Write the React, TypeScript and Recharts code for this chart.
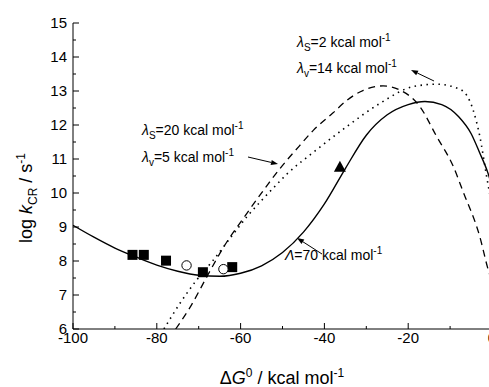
import React from 'react';
import { ComposedChart, Line, Scatter, XAxis, YAxis, Customized } from 'recharts';

const FONT = 'Arial, "Liberation Sans", Helvetica, sans-serif';

// lambda = 70 kcal/mol fit (solid)
const solidX = [-100, -95, -90, -85, -80, -75, -70, -65, -60, -55, -50, -45, -40, -35, -30, -25, -20, -16, -12, -8, -5, -3, -1, 0];
const solidY = [9.05, 8.7, 8.38, 8.12, 7.88, 7.7, 7.58, 7.55, 7.64, 7.86, 8.25, 8.85, 9.68, 10.72, 11.7, 12.3, 12.6, 12.69, 12.6, 12.25, 11.75, 11.2, 10.6, 10.2];

// ls = 20, lv = 5 (dashed)
const dashX = [-75.5, -72, -68, -64, -58.5, -53.4, -50.6, -46, -42.6, -38, -34.7, -30.7, -26, -22, -17.2, -13.2, -9.2, -6.9, -2.9, -0.9, 0];
const dashY = [6.0, 6.65, 7.55, 8.42, 9.4, 10.27, 10.72, 11.38, 11.85, 12.35, 12.72, 13.02, 13.15, 13.03, 12.54, 11.66, 10.77, 10.04, 8.71, 7.74, 7.4];

// ls = 2, lv = 14 (dotted)
const dotX = [-78.3, -74.5, -70.5, -66.5, -62, -58.5, -55, -51, -49, -42.6, -34.7, -26.7, -18.8, -13.2, -7.6, -4.5, -2.9, -1.3, 0];
const dotY = [6.0, 6.75, 7.44, 8.03, 8.75, 9.3, 9.78, 10.3, 10.55, 11.2, 11.95, 12.64, 13.13, 13.2, 13.05, 12.44, 11.66, 10.5, 9.6];

const squareX = [-85.8, -83.1, -77.8, -69.0, -62.0];
const squareY = [8.18, 8.18, 8.01, 7.67, 7.82];
const circleX = [-72.9, -64.1];
const circleY = [7.87, 7.76];
const triangleX = [-36.3];
const triangleY = [10.77];

const xTicks = [-100, -90, -80, -70, -60, -50, -40, -30, -20, -10, 0];
const yTicks = [6, 6.5, 7, 7.5, 8, 8.5, 9, 9.5, 10, 10.5, 11, 11.5, 12, 12.5, 13, 13.5, 14, 14.5, 15];

const zip = (xs: number[], ys: number[]) => xs.map((x, i) => ({ x, y: ys[i] }));
const solidData = zip(solidX, solidY);
const dashData = zip(dashX, dashY);
const dotData = zip(dotX, dotY);
const squareData = zip(squareX, squareY);
const circleData = zip(circleX, circleY);
const triangleData = zip(triangleX, triangleY);

const XTick = (props: any) => {
  const { x, y, payload } = props;
  const v = payload.value;
  const major = v % 20 === 0;
  return (
    <g>
      <line x1={x} x2={x} y1={y} y2={y - (major ? 6 : 3)} stroke="#000" strokeWidth={1} />
      {major && (
        <text x={x} y={y + 14} textAnchor="middle" fontSize={15} fontFamily={FONT} fill="#000">
          {v}
        </text>
      )}
    </g>
  );
};

const YTick = (props: any) => {
  const { x, y, payload } = props;
  const v = payload.value;
  const major = v % 1 === 0;
  return (
    <g>
      <line x1={x} x2={x + (major ? 6 : 3)} y1={y} y2={y} stroke="#000" strokeWidth={1} />
      {major && (
        <text x={x - 6} y={y + 5} textAnchor="end" fontSize={15} fontFamily={FONT} fill="#000">
          {v}
        </text>
      )}
    </g>
  );
};

const Arrow = ({ x1, y1, x2, y2 }: { x1: number; y1: number; x2: number; y2: number }) => {
  // head at (x2, y2)
  const a = Math.atan2(y2 - y1, x2 - x1);
  const L = 7;
  const W = 2.6;
  const bx = x2 - L * Math.cos(a);
  const by = y2 - L * Math.sin(a);
  const p1 = `${bx + W * Math.sin(a)},${by - W * Math.cos(a)}`;
  const p2 = `${bx - W * Math.sin(a)},${by + W * Math.cos(a)}`;
  return (
    <g>
      <line x1={x1} y1={y1} x2={bx} y2={by} stroke="#000" strokeWidth={1} />
      <polygon points={`${x2},${y2} ${p1} ${p2}`} fill="#000" />
    </g>
  );
};

const Lam = ({ x, y, sub, rest }: { x: number; y: number; sub: string; rest: string }) => (
  <text x={x} y={y} fontSize={14} fontFamily={FONT} fill="#000">
    <tspan fontStyle="italic">λ</tspan>
    <tspan dy={4} fontSize={10}>{sub}</tspan>
    <tspan dy={-4}>{rest}</tspan>
    <tspan dy={-6} fontSize={10}>-1</tspan>
  </text>
);

const Annotations = () => (
  <g>
    <Lam x={297} y={47} sub="S" rest="=2 kcal mol" />
    <Lam x={297} y={73} sub="v" rest="=14 kcal mol" />
    <Arrow x1={434} y1={81} x2={411} y2={70} />

    <Lam x={142} y={135} sub="S" rest="=20 kcal mol" />
    <Lam x={142} y={162} sub="v" rest="=5 kcal mol" />
    <Arrow x1={248} y1={157} x2={278} y2={164} />

    <text x={285} y={260} fontSize={14} fontFamily={FONT} fill="#000">
      <tspan fontStyle="italic">Λ</tspan>
      <tspan>=70 kcal mol</tspan>
      <tspan dy={-6} fontSize={10}>-1</tspan>
    </text>
    <Arrow x1={322} y1={254} x2={297} y2={238} />

    <text x={282} y={384} textAnchor="middle" fontSize={18} fontFamily={FONT} fill="#000">
      <tspan>Δ</tspan>
      <tspan fontStyle="italic">G</tspan>
      <tspan dy={-7} fontSize={12}>0</tspan>
      <tspan dy={7}> / kcal mol</tspan>
      <tspan dy={-7} fontSize={12}>-1</tspan>
    </text>

    <text
      x={32}
      y={198}
      transform="rotate(-90 32 198)"
      textAnchor="middle"
      fontSize={18}
      fontFamily={FONT}
      fill="#000"
    >
      <tspan>log </tspan>
      <tspan fontStyle="italic">k</tspan>
      <tspan dy={5} fontSize={12}>CR</tspan>
      <tspan dy={-5}> / s</tspan>
      <tspan dy={-7} fontSize={12}>-1</tspan>
    </text>
  </g>
);

const squareShape = (p: any) => <rect x={p.cx - 5} y={p.cy - 5} width={10} height={10} fill="#000" />;
const circleShape = (p: any) => <circle cx={p.cx} cy={p.cy} r={4.7} fill="#fff" stroke="#000" strokeWidth={1} />;
const triangleShape = (p: any) => (
  <polygon points={`${p.cx},${p.cy - 6} ${p.cx - 6},${p.cy + 5} ${p.cx + 6},${p.cy + 5}`} fill="#000" />
);

export default function App() {
  return (
    <div style={{ position: 'absolute', left: 0, top: 0, width: 489, height: 387, overflow: 'hidden', background: '#fff' }}>
      <ComposedChart width={500} height={387} margin={{ top: 23, right: 8, left: 0, bottom: 0 }}>
        <XAxis
          dataKey="x"
          type="number"
          domain={[-100, 0]}
          ticks={xTicks}
          interval={0}
          allowDataOverflow
          height={58}
          tickSize={0}
          tickMargin={0}
          tickLine={false}
          tick={<XTick />}
          axisLine={{ stroke: '#000', strokeWidth: 1 }}
        />
        <YAxis
          dataKey="y"
          type="number"
          domain={[6, 15]}
          ticks={yTicks}
          interval={0}
          allowDataOverflow
          width={73}
          tickSize={0}
          tickMargin={0}
          tickLine={false}
          tick={<YTick />}
          axisLine={{ stroke: '#000', strokeWidth: 1 }}
        />
        <Line data={solidData} dataKey="y" type="monotone" stroke="#000" strokeWidth={1.4} dot={false} isAnimationActive={false} />
        <Line data={dashData} dataKey="y" type="monotone" stroke="#000" strokeWidth={1.3} strokeDasharray="7 5" dot={false} isAnimationActive={false} />
        <Line data={dotData} dataKey="y" type="monotone" stroke="#000" strokeWidth={1.6} strokeDasharray="1.5 4.5" dot={false} isAnimationActive={false} />
        <Scatter data={squareData} dataKey="y" shape={squareShape} isAnimationActive={false} />
        <Scatter data={circleData} dataKey="y" shape={circleShape} isAnimationActive={false} />
        <Scatter data={triangleData} dataKey="y" shape={triangleShape} isAnimationActive={false} />
        <Customized component={Annotations} />
      </ComposedChart>
    </div>
  );
}
